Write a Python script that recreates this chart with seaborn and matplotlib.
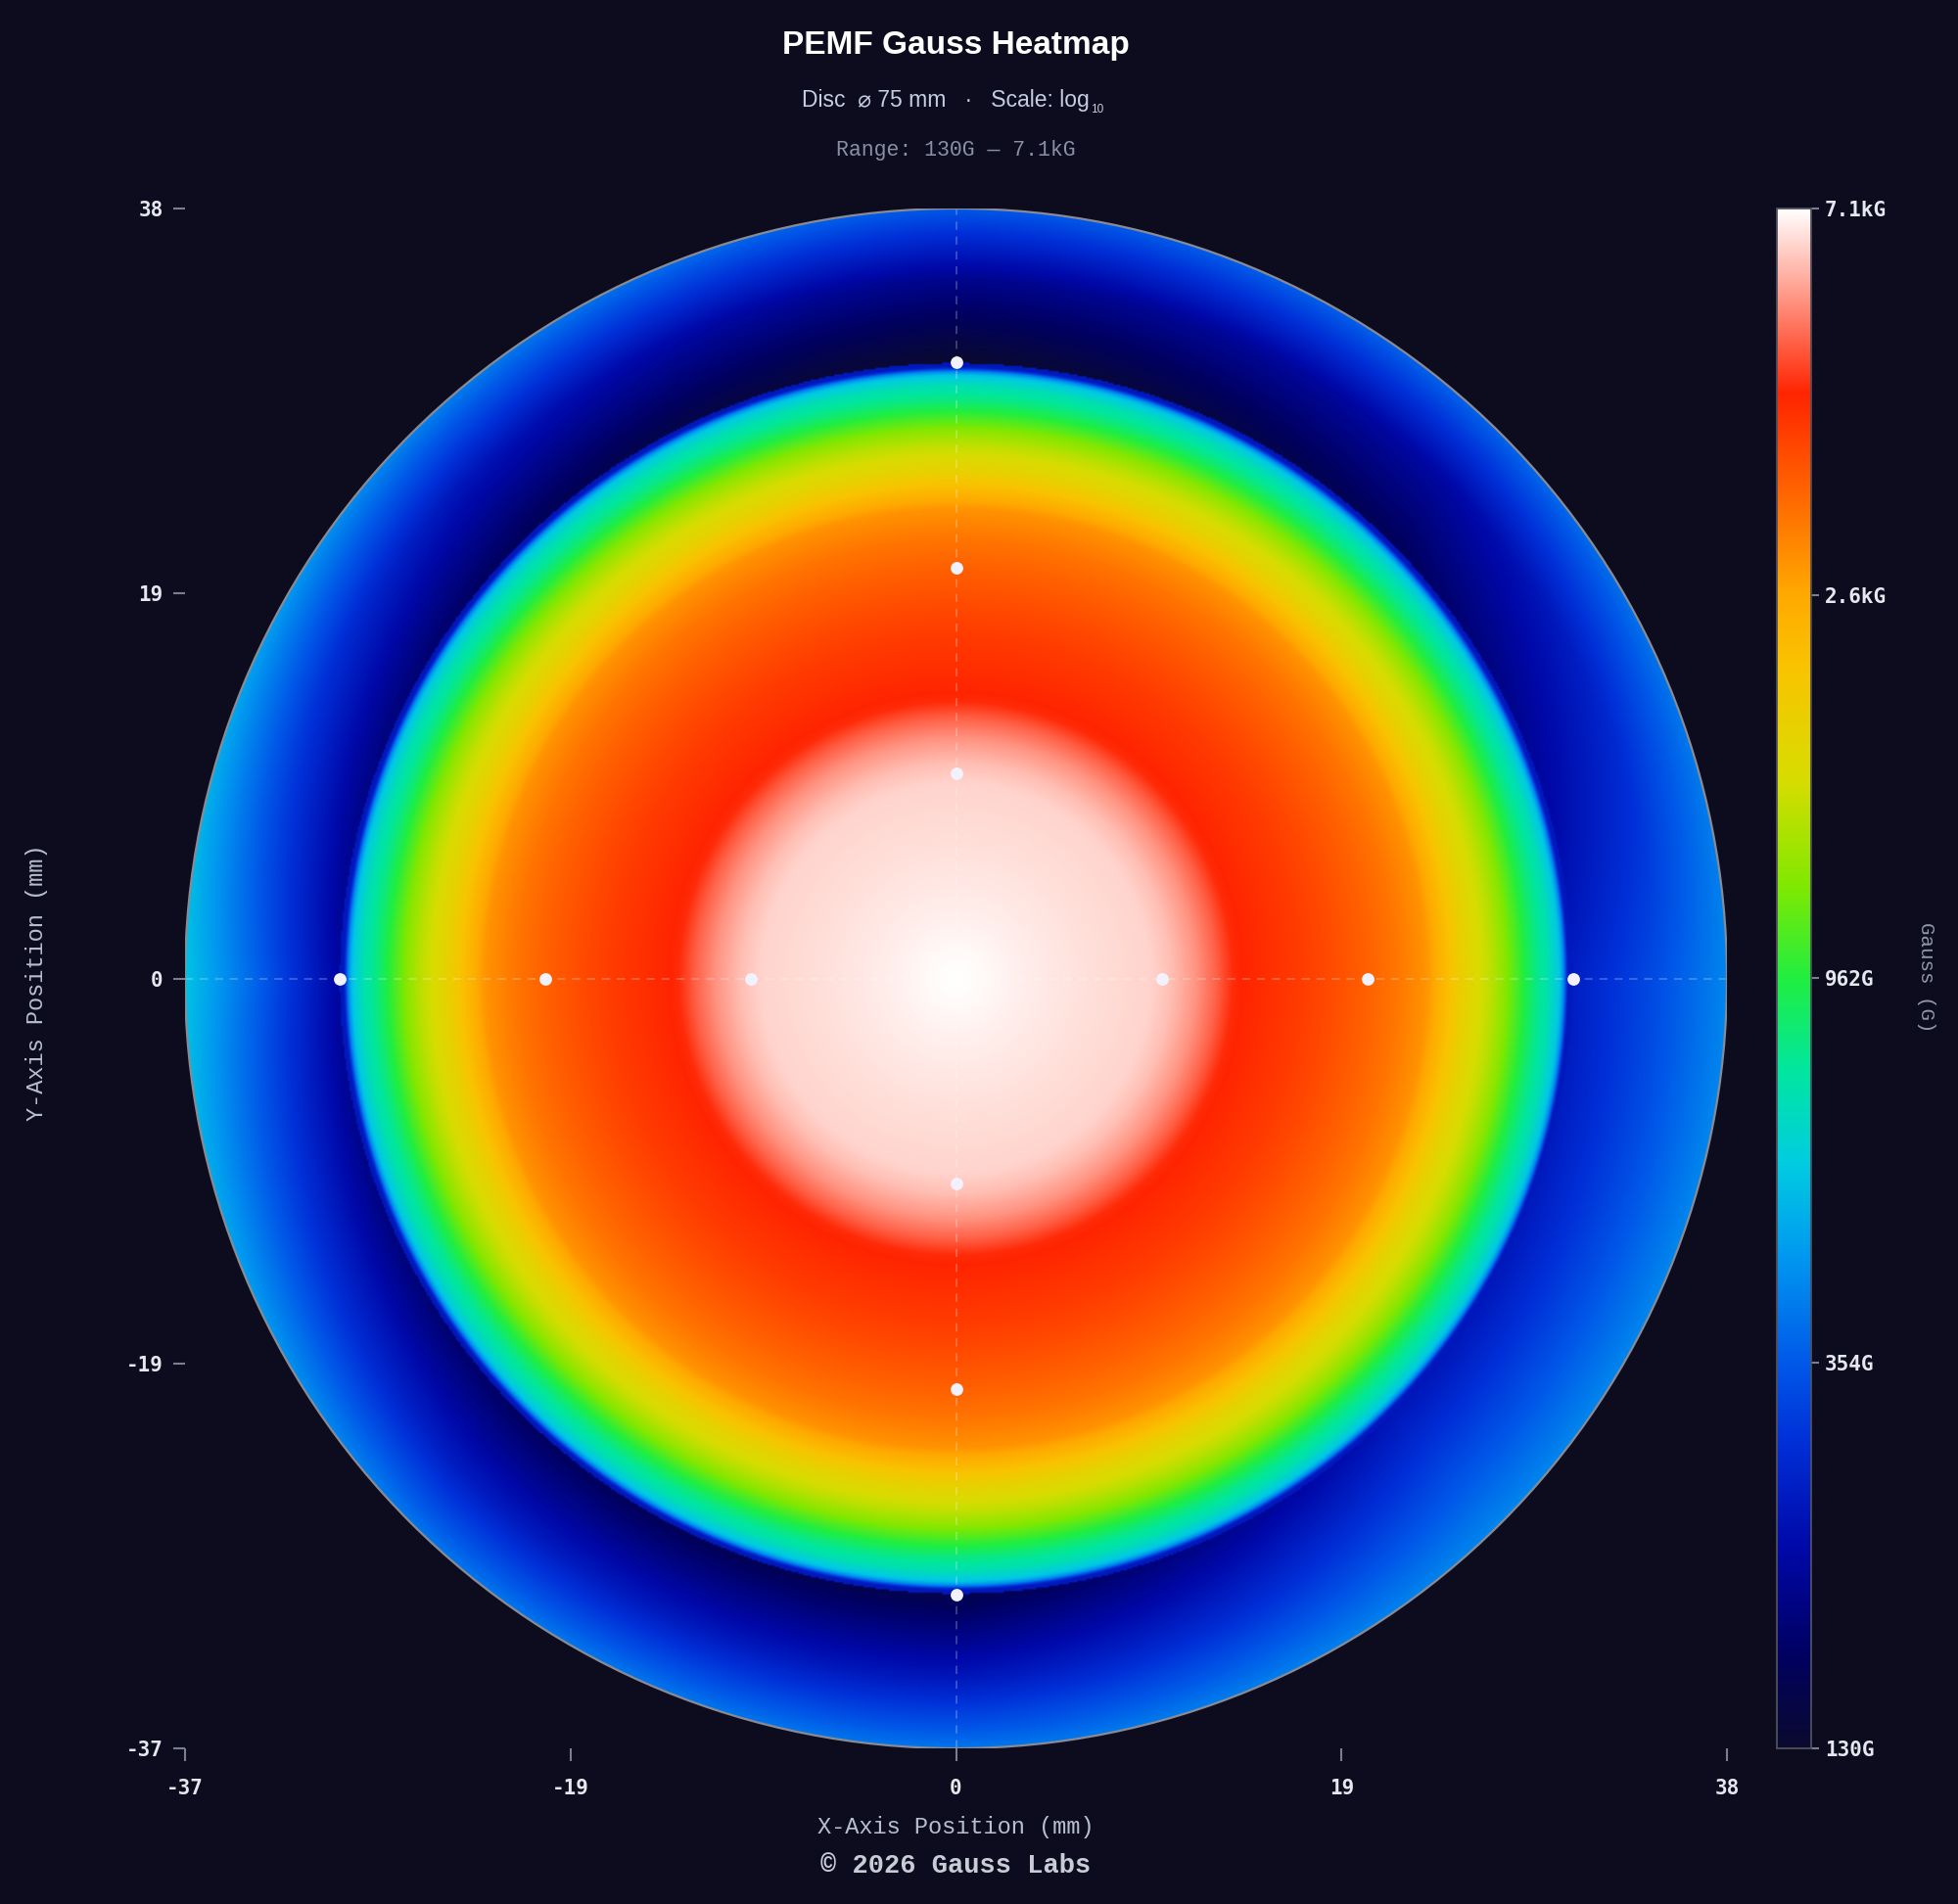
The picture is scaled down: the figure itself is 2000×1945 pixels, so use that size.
import numpy as np
import matplotlib
matplotlib.use('Agg')
import matplotlib.pyplot as plt
import seaborn as sns
from matplotlib.colors import LinearSegmentedColormap, LogNorm
from matplotlib.patches import Circle
from matplotlib.ticker import NullLocator

sns.set_style('dark')
plt.rcParams['font.family'] = ['Liberation Sans', 'DejaVu Sans']

BG = '#0c0c1e'
MONO = ['Liberation Mono', 'DejaVu Sans Mono']
TICK_FONT = ['DejaVu Sans Mono']

# radial field profile inside the coil edge (mm -> gauss)
radius_mm = [0, 1.5, 3, 6, 9.5, 10.5, 11.7, 12.7, 13.5, 15.2, 16.5, 18, 20, 21.4,
             22.9, 23.8, 24.8, 26, 26.7, 27.4, 28.2, 28.9, 29.4, 29.6, 29.8]
gauss_inner = [7100, 7000, 6850, 6650, 6450, 6150, 5600, 5010, 4460, 4200, 4040,
               3800, 3450, 3190, 2830, 2310, 1820, 1490, 1270, 1040, 820, 700,
               571, 430, 246]

# outer ring beyond the coil edge, read per direction (deg, counter-clockwise from +x)
ring_angle = [0, 45, 90, 135, 180, 225, 270, 315]
ring_radius = [30.0, 34.0, 37.5]
gauss_ring_inner = [256, 160, 130, 160, 210, 165, 150, 240]
gauss_ring_mid = [332, 215, 194, 240, 367, 250, 240, 330]
gauss_ring_edge = [432, 370, 350, 420, 571, 400, 400, 430]

# probe positions (mm)
probe_x = [-30, -20, -10, 10, 20, 30, 0, 0, 0, 0, 0, 0]
probe_y = [0, 0, 0, 0, 0, 0, 30, 20, 10, -10, -20, -30]

disc_radius = 37.5
axis_ticks = [-37.5, -18.75, 0, 18.75, 37.5]
axis_labels = ['-37', '-19', '0', '19', '38']
cbar_ticks = [130, 354, 962, 2600, 7100]
cbar_labels = ['130G', '354G', '962G', '2.6kG', '7.1kG']

cmap_pos = [0.0, 0.06, 0.13, 0.20, 0.25, 0.32, 0.38, 0.44, 0.50, 0.56, 0.63,
            0.70, 0.75, 0.82, 0.88, 1.0]
cmap_col = ['#0a0a2e', '#000060', '#0008a8', '#0030d8', '#0058e8', '#0098f0',
            '#00cce0', '#00e6a0', '#20ee40', '#80e800', '#d8dc00', '#f8c400',
            '#ffa800', '#ff6000', '#ff2400', '#ffffff']
gauss_cmap = LinearSegmentedColormap.from_list('gauss', list(zip(cmap_pos, cmap_col)), N=2048)

# build the field grid
n = 900
xs = np.linspace(-disc_radius, disc_radius, n)
X, Y = np.meshgrid(xs, xs)
R = np.minimum(np.hypot(X, Y), disc_radius)
T = np.degrees(np.arctan2(Y, X)) % 360

log_in = np.interp(R, radius_mm, np.log(gauss_inner))
ang = ring_angle + [360]
l0 = np.interp(T, ang, np.log(gauss_ring_inner + gauss_ring_inner[:1]))
l1 = np.interp(T, ang, np.log(gauss_ring_mid + gauss_ring_mid[:1]))
l2 = np.interp(T, ang, np.log(gauss_ring_edge + gauss_ring_edge[:1]))
w1 = np.clip((R - ring_radius[0]) / (ring_radius[1] - ring_radius[0]), 0, 1)
w2 = np.clip((R - ring_radius[1]) / (ring_radius[2] - ring_radius[1]), 0, 1)
log_out = np.where(R < ring_radius[1], (1 - w1) * l0 + w1 * l1, (1 - w2) * l1 + w2 * l2)
field = np.exp(np.where(R < ring_radius[0], log_in, log_out))

fig = plt.figure(figsize=(20, 19.45), dpi=100, facecolor=BG)
ax = fig.add_axes([189 / 2000, 159 / 1945, 1575 / 2000, 1573 / 1945])
cax = fig.add_axes([1815 / 2000, 159 / 1945, 35 / 2000, 1573 / 1945])
ax.set_facecolor(BG)

norm = LogNorm(vmin=130, vmax=7100)
im = ax.imshow(field, extent=[-disc_radius, disc_radius, -disc_radius, disc_radius],
               origin='lower', cmap=gauss_cmap, norm=norm, interpolation='bilinear')
clip = Circle((0, 0), disc_radius, transform=ax.transData)
im.set_clip_path(clip)
ax.add_patch(Circle((0, 0), disc_radius, fill=False, ec='#8a8a94', lw=1.6, zorder=4))

# crosshair
dash = (0, (4, 3.3))
ax.plot([-disc_radius, disc_radius], [0, 0], ls=dash, color='white', alpha=0.22, lw=1.5, zorder=3)
ax.plot([0, 0], [-disc_radius, disc_radius], ls=dash, color='white', alpha=0.22, lw=1.5, zorder=3)

sns.scatterplot(x=probe_x, y=probe_y, ax=ax, s=85, color='#f2f2ff', linewidth=0, zorder=5)

ax.set_xlim(-disc_radius, disc_radius)
ax.set_ylim(-disc_radius, disc_radius)
ax.set_aspect('auto')
for s in ax.spines.values():
    s.set_visible(False)
ax.grid(False)
ax.set_xticks(axis_ticks, axis_labels)
ax.set_yticks(axis_ticks, axis_labels)
ax.tick_params(axis='x', length=9, width=1.5, color='#7a7f90', pad=13,
               labelcolor='#e6e8f0', labelsize=15, bottom=True)
ax.tick_params(axis='y', length=9, width=1.5, color='#7a7f90', pad=7,
               labelcolor='#e6e8f0', labelsize=15, left=True)
for lab in ax.get_xticklabels() + ax.get_yticklabels():
    lab.set_family(TICK_FONT)
    lab.set_fontweight('bold')

# colorbar
cb = fig.colorbar(im, cax=cax, ticks=cbar_ticks)
cb.ax.yaxis.set_minor_locator(NullLocator())
cb.set_ticklabels(cbar_labels)
cb.outline.set_edgecolor('#50505e')
cb.outline.set_linewidth(1.3)
cax.tick_params(length=6, width=1.5, color='#7a7f90', pad=4, labelcolor='#e6e8f0', labelsize=15)
for lab in cax.get_yticklabels():
    lab.set_family(TICK_FONT)
    lab.set_fontweight('bold')

# texts
cx = 976 / 2000
fig.text(cx, 1 - 47 / 1945, 'PEMF Gauss Heatmap', ha='center', va='center',
         fontsize=24, fontweight='bold', color='white')
sub = fig.text(cx - 0.005, 1 - 102 / 1945, 'Disc  \u2300 75 mm   \u00b7   Scale: log',
               ha='center', va='center', fontsize=16.5, color='#c5cde0',
               family=['Liberation Sans', 'DejaVu Sans'])
fig.canvas.draw()
bb = sub.get_window_extent().transformed(fig.transFigure.inverted())
fig.text(bb.x1 + 0.0005, bb.y0 + 0.001, '10', ha='left', va='center', fontsize=8.5, color='#c5cde0')
fig.text(cx, 1 - 154 / 1945, 'Range: 130G \u2014 7.1kG', ha='center', va='center',
         fontsize=15.5, color='#8890a2', family=MONO)
fig.text(cx, 1 - 1867 / 1945, 'X-Axis Position (mm)', ha='center', va='center',
         fontsize=17, color='#b8bfcc', family=MONO)
fig.text(cx, 1 - 1906 / 1945, '\u00a9 2026 Gauss Labs', ha='center', va='center',
         fontsize=19.5, fontweight='bold', color='#c8ccd6', family=MONO)
fig.text(38 / 2000, 1 - 1004 / 1945, 'Y-Axis Position (mm)', ha='center', va='center',
         rotation=90, fontsize=17, color='#b8bfcc', family=MONO)
fig.text(1967 / 2000, 1 - 998 / 1945, 'Gauss (G)', ha='center', va='center',
         rotation=-90, fontsize=15, color='#9098a8', family=MONO)

fig.savefig('out.png', dpi=100, facecolor=BG)
